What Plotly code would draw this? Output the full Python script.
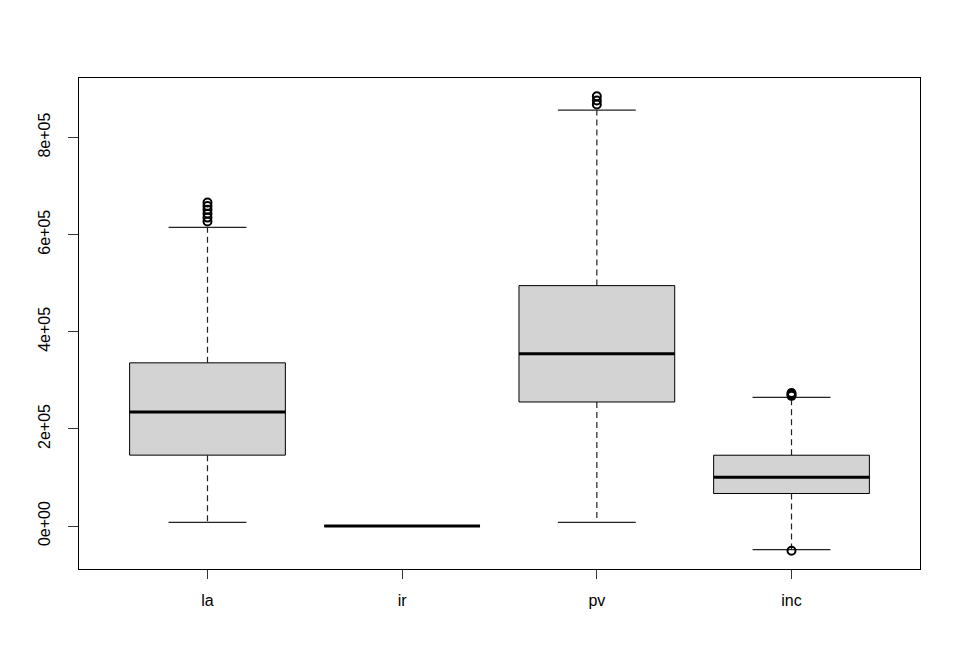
import plotly.graph_objects as go

categories = ["la", "ir", "pv", "inc"]
lower_whisker = [7600, 0, 7600, -48500]
q1 = [146000, 0, 255400, 67000]
median = [235000, 0, 354500, 100600]
q3 = [336000, 0, 495000, 145800]
upper_whisker = [614800, 0, 856400, 265100]
outliers = {
    "la": [627000, 635000, 643000, 651000, 659000, 666000],
    "ir": [],
    "pv": [868000, 876000, 885000],
    "inc": [268000, 271000, 274000, -51000],
}
ytick_vals = [0, 200000, 400000, 600000, 800000]
ytick_text = ["0e+00", "2e+05", "4e+05", "6e+05", "8e+05"]

fig = go.Figure()
half = 0.4
cap = 0.2
for i, name in enumerate(categories):
    x = i + 1
    # whiskers (dashed)
    for a, b in [(q3[i], upper_whisker[i]), (q1[i], lower_whisker[i])]:
        fig.add_trace(go.Scatter(x=[x, x], y=[a, b], mode="lines",
                                 line=dict(color="#222222", width=1.2, dash="6px,4px"),
                                 hoverinfo="skip", showlegend=False))
    # caps
    for v in [upper_whisker[i], lower_whisker[i]]:
        fig.add_trace(go.Scatter(x=[x - cap, x + cap], y=[v, v], mode="lines",
                                 line=dict(color="#222222", width=1.2),
                                 hoverinfo="skip", showlegend=False))
    # box
    fig.add_trace(go.Scatter(x=[x - half, x + half, x + half, x - half, x - half],
                             y=[q1[i], q1[i], q3[i], q3[i], q1[i]],
                             mode="lines", fill="toself", fillcolor="#D3D3D3",
                             line=dict(color="black", width=1),
                             hoverinfo="skip", showlegend=False))
    # median
    fig.add_trace(go.Scatter(x=[x - half, x + half], y=[median[i], median[i]], mode="lines",
                             line=dict(color="black", width=3),
                             hoverinfo="skip", showlegend=False))
    # outliers
    if outliers[name]:
        fig.add_trace(go.Scatter(x=[x] * len(outliers[name]), y=outliers[name], mode="markers",
                                 marker=dict(symbol="circle-open", size=8, color="black",
                                             line=dict(width=2)),
                                 hoverinfo="skip", showlegend=False))

all_vals = lower_whisker + upper_whisker + [v for k in outliers for v in outliers[k]]
lo, hi = min(all_vals), max(all_vals)
pad = (hi - lo) * 0.04

fig.update_layout(
    width=960, height=667,
    margin=dict(l=71, r=48, t=70, b=106),
    paper_bgcolor="white", plot_bgcolor="white",
    font=dict(family="Liberation Sans, Arial, sans-serif", size=16, color="black"),
    showlegend=False,
    xaxis=dict(range=[0.34, 4.66], tickvals=[1, 2, 3, 4], ticktext=categories,
               showgrid=False, zeroline=False, showline=True, linecolor="black",
               linewidth=1, mirror=True, ticks="outside", ticklen=9, tickcolor="#333333",
               ticklabelstandoff=8),
    yaxis=dict(range=[lo - pad, hi + pad], tickvals=ytick_vals, ticktext=ytick_text,
               tickangle=-90, showgrid=False, zeroline=False, showline=True,
               linecolor="black", linewidth=1, mirror=True, ticks="outside",
               ticklen=10, tickcolor="#333333", ticklabelstandoff=12),
)

fig.write_html("out.html")
